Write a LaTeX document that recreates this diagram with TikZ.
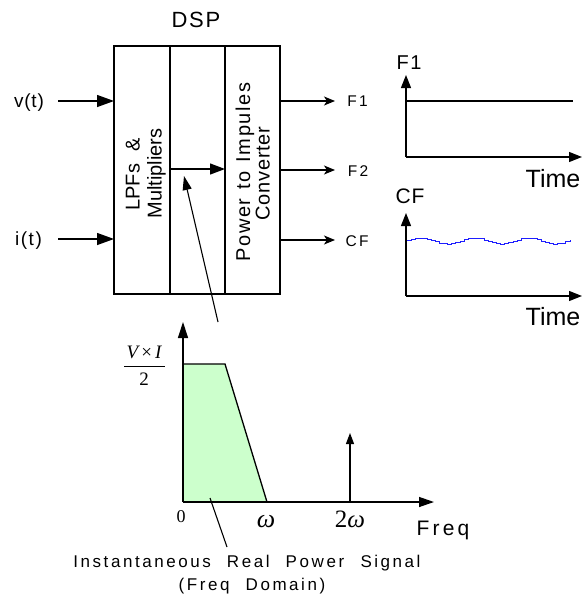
\documentclass[tikz,border=0pt]{standalone}
\usepackage{fontspec}
\setmainfont{Liberation Sans}
\newfontfamily\lsn{Liberation Sans}
\newfontfamily\lsb[LetterSpace=4]{Liberation Sans}
\newfontfamily\lsc[LetterSpace=8]{Liberation Sans}
\newfontfamily\ls[LetterSpace=15]{Liberation Sans}
\newfontfamily\tms{Liberation Serif}
\usetikzlibrary{arrows.meta}
\definecolor{areagreen}{RGB}{204,255,204}
\definecolor{wavecol}{RGB}{30,30,255}
\newcommand\fsz[1]{\fontsize{#1}{#1}\selectfont}
\begin{document}
\begin{tikzpicture}[x=1pt,y=-1pt,line width=1.3pt,
  lbl/.style={inner sep=0pt,anchor=base,font=\ls},
  ser/.style={inner sep=0pt,anchor=base,font=\tms},
  rot/.style={inner sep=0pt,anchor=base,rotate=90},
  blk/.style={draw,inner sep=0pt,outer sep=0pt,minimum height=248pt},
  inarr/.style={-{Triangle[length=17pt,width=12pt]}},
  midarr/.style={-{Triangle[length=15pt,width=11pt]}},
  outarr/.style={-{Stealth[length=11pt,width=9pt,inset=3pt]}},
  axarr/.style={-{Triangle[length=13pt,width=10pt]}},
  leadarr/.style={line width=1.1pt,-{Triangle[length=14pt,width=9pt]}},
  imparr/.style={line width=1.1pt,-{Triangle[length=11pt,width=8pt]}}]
\useasboundingbox (0,0) rectangle (582,598);

% DSP block
\node[lbl,font=\lsc] (dsp) at (196,27) {\fsz{22}DSP};
\node[blk,minimum width=56pt] (lpf) at (142,170) {};
\node[blk,minimum width=55pt] (mid) at (197.5,170) {};
\node[blk,minimum width=55pt] (pic) at (252.5,170) {};
\node[rot,font=\lsn\fsz{20}] (lpft) at (139.5,174.5) {\spaceskip=0.6em LPFs \&};
\node[rot,font=\lsn\fsz{20}] (mult) at (161.5,173.5) {Multipliers};
\node[rot,font=\lsc\fsz{20}] (powt) at (250,172) {\spaceskip=0.45em Power to Impules};
\node[rot,font=\lsb\fsz{20}] (convt) at (269.5,173.5) {Converter};

% inputs
\node[lbl,font=\lsb] (vt) at (29,107) {\fsz{19}v(t)};
\node[lbl,font=\lsc] (it) at (28.5,245) {\fsz{19}i(t)};
\coordinate (vs) at (58,101);
\coordinate (is) at (58,239);
\draw[inarr] (vs) -- (vs -| lpf.west);
\draw[inarr] (is) -- (is -| lpf.west);

% inner arrow
\coordinate (ms) at (170,169);
\draw[midarr] (ms) -- (ms -| pic.west);

% outputs
\node[lbl] (of1) at (357.5,106.7) {\fsz{15.5}F1};
\node[lbl] (of2) at (358,176) {\fsz{15.5}F2};
\node[lbl] (ocf) at (357,246.7) {\fsz{15.5}CF};
\coordinate (o1) at (335,101);
\coordinate (o2) at (335,170);
\coordinate (o3) at (335,240);
\draw[outarr] (o1 -| pic.east) -- (o1);
\draw[outarr] (o2 -| pic.east) -- (o2);
\draw[outarr] (o3 -| pic.east) -- (o3);

% leader arrow to the box
\coordinate (ls) at (218,322);
\coordinate (lt) at (184,176);
\draw[leadarr] (ls) -- (lt);

% F1 graph
\coordinate (g1) at (406,157);
\coordinate (g1y) at (406,75);
\coordinate (g1x) at (582,157);
\draw[axarr] (g1) -- (g1y);
\draw[axarr] (g1) -- (g1x);
\coordinate (f1a) at (406,101);
\coordinate (f1b) at (573,101);
\draw (f1a) -- (f1b);
\node[lbl,font=\lsc] (gf1) at (409,69) {\fsz{20}F1};
\node[lbl,font=\lsn,anchor=base east] (t1) at (581,187) {\fsz{25}Time};

% CF graph
\coordinate (g2) at (406,296);
\coordinate (g2y) at (406,213);
\coordinate (g2x) at (582,296);
\draw[axarr] (g2) -- (g2y);
\draw[axarr] (g2) -- (g2x);
\draw[wavecol,line width=0.9pt] plot[const plot,domain=407:570,samples=41] (\x,{241-3*cos((\x-420)/54*360)});
\node[lbl,font=\lsb] (gcf) at (410,203) {\fsz{21}CF};
\node[lbl,font=\lsn,anchor=base east] (t2) at (581,325) {\fsz{25}Time};

% frequency graph
\coordinate (fo) at (183,502);
\coordinate (fy) at (183,322);
\coordinate (fx) at (434,502);
\coordinate (ta) at (183,364);
\coordinate (tb) at (225,364);
\coordinate (tc) at (267,502);
\fill[areagreen] (fo) -- (ta) -- (tb) -- (tc) -- cycle;
\draw (ta) -- (tb) -- (tc);
\draw[-{Triangle[length=16pt,width=10pt]}] (fo) -- (fy);
\draw[-{Triangle[length=15pt,width=10pt]}] (fo) -- (fx);
\coordinate (ia) at (350,502);
\coordinate (ib) at (350,433);
\draw[imparr] (ia) -- (ib);
\node[ser] (zero) at (181,522) {\fsz{18}0};
\node[ser] (om) at (266,527) {\itshape\fsz{26}ω};
\node[ser] (om2) at (350,527) {\fsz{25}2\itshape ω};
\node[lbl] (freq) at (443,535) {\fsz{21}Freq};

% V x I / 2 label
\node[ser] (vinum) at (144,358) {\fsz{19}\itshape V\,\upshape×\,\itshape I};
\coordinate (fba) at (124,366);
\coordinate (fbb) at (165,366);
\draw[line width=0.9pt] (fba) -- (fbb);
\node[ser] (viden) at (144,385) {\fsz{19}2};

% caption
\coordinate (la) at (210,498);
\coordinate (lb) at (227,547);
\draw[line width=1.1pt] (la) -- (lb);
\node[lbl] (cap1) at (247,567) {\fsz{17}\spaceskip=0.95em Instantaneous Real Pow\,er Signal};
\node[lbl] (cap2) at (252,590) {\fsz{17}\spaceskip=0.95em (Freq Domain)};
\end{tikzpicture}
\end{document}
